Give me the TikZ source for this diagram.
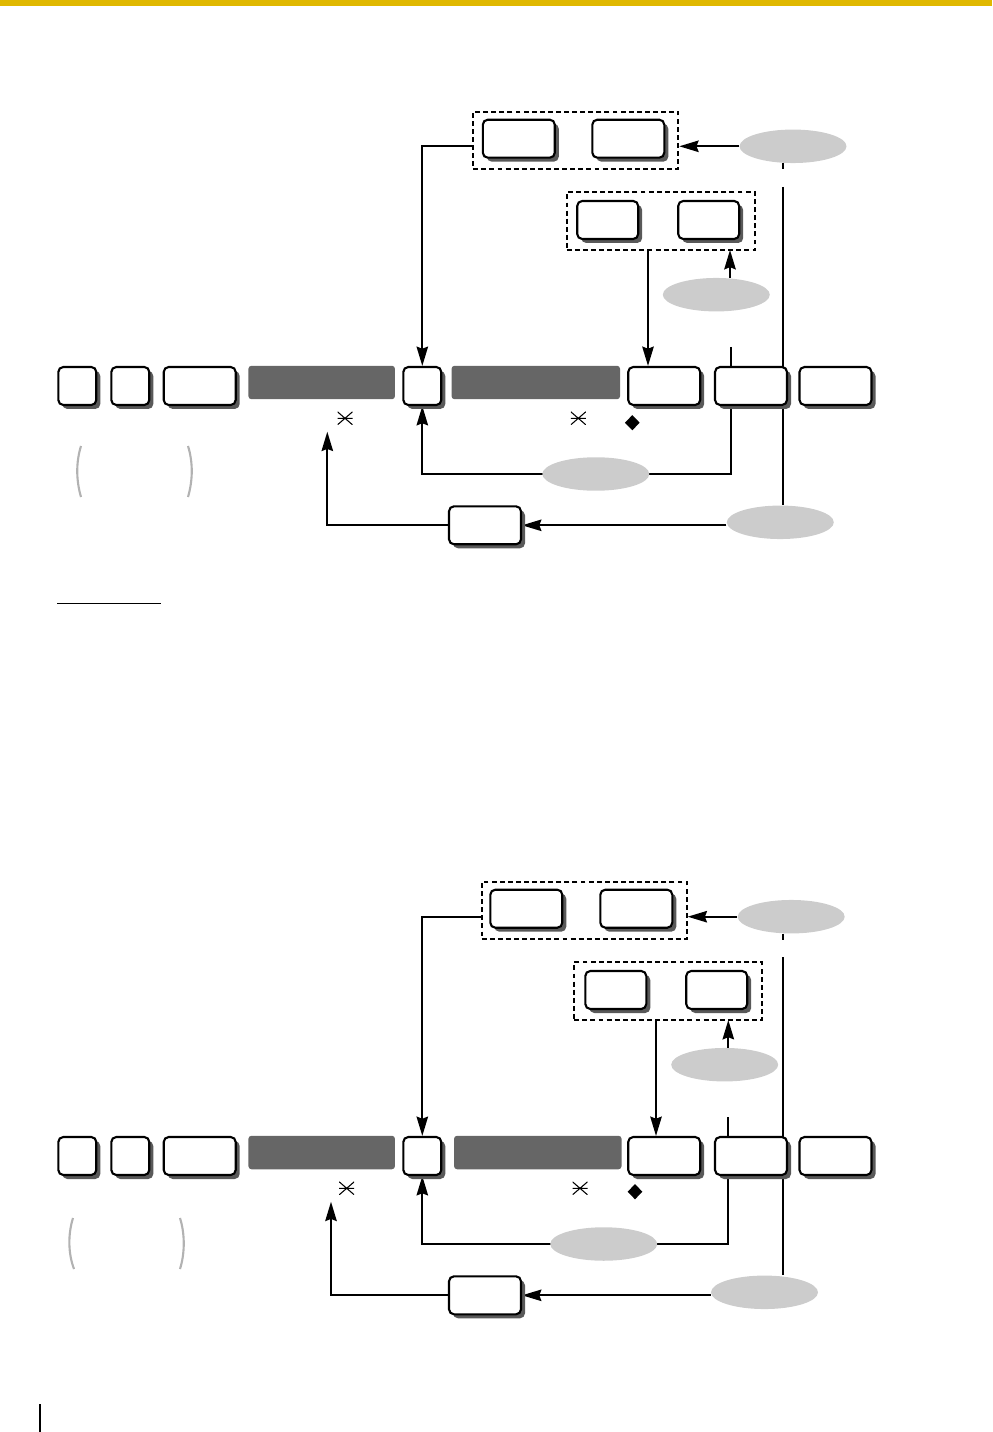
\documentclass[tikz,border=0pt]{standalone}
\usepackage{tikz}
\usetikzlibrary{positioning,arrows.meta,shapes.geometric,shadows}
\pgfdeclarelayer{background}
\pgfsetlayers{background,main}
\definecolor{pagebar}{RGB}{224,184,0}

\begin{document}
\begin{tikzpicture}[x=0.02cm, y=-0.02cm,
  keybox/.style={draw, line width=1.2pt, rounded corners=0.1cm, fill=white, minimum height=0.76cm, inner sep=0pt,
    drop shadow={shadow xshift=0.08cm, shadow yshift=-0.08cm, fill=black!65, opacity=1}},
  smallkey/.style={keybox, minimum width=0.76cm},
  midkey/.style={keybox, minimum width=1.22cm},
  widekey/.style={keybox, minimum width=1.44cm},
  darkbar/.style={fill=black!60, rounded corners=0.06cm, minimum height=0.67cm, inner sep=0pt},
  grayoval/.style={ellipse, fill=black!20, minimum width=2.14cm, minimum height=0.67cm, inner sep=0pt},
  groupbox/.style={draw, line width=1.1pt, dash pattern=on 2.8pt off 1.8pt, inner sep=0pt},
  conn/.style={line width=1.2pt},
  tip/.style={-{Stealth[length=11pt, width=6.5pt, inset=1.2pt]}},
  astmark/.style={minimum width=0.3cm, minimum height=0.26cm, inner sep=0pt,
    path picture={\draw[line width=0.6pt] (path picture bounding box.west) -- (path picture bounding box.east)
      (path picture bounding box.north west) -- (path picture bounding box.south east)
      (path picture bounding box.south west) -- (path picture bounding box.north east);}},
  dmark/.style={diamond, fill=black, inner sep=0pt, minimum width=0.3cm, minimum height=0.31cm},
  paren/.style={draw=black!30, line width=1.2pt}]
\useasboundingbox (0,0) rectangle (992,1432);
\fill[pagebar] (0,0) rectangle (992,5.7);

% first diagram
\node[groupbox, minimum width=4.1cm, minimum height=1.15cm] (grpA) at (575.8,140.4) {};
\node[widekey] (a1) at (518.8,138.7) {};
\node[widekey] (a2) at (628.3,138.7) {};
\node[groupbox, minimum width=3.77cm, minimum height=1.15cm] (grpB) at (660.9,221.2) {};
\node[midkey] (b1) at (607.7,220) {};
\node[midkey] (b2) at (708.7,220) {};
\node[grayoval] (ovA) at (793,146.3) {};
\node[grayoval] (ovB) at (716.3,294.7) {};
\node[smallkey] (k1) at (77.3,386) {};
\node[smallkey] (k2) at (130.3,386) {};
\node[widekey] (k3) at (199.7,386) {};
\node[darkbar, minimum width=2.93cm] (bar1) at (321.7,382.5) {};
\node[smallkey] (kc) at (422.3,386) {};
\node[darkbar, minimum width=3.37cm] (bar2) at (535.8,382.5) {};
\node[widekey] (k6) at (664.2,386) {};
\node[widekey] (k7) at (751,386) {};
\node[widekey] (k8) at (835.5,386) {};
\node[astmark] (s1) at (345,418.3) {};
\node[astmark] (s2) at (578.3,418.3) {};
\node[dmark] (d1) at (632.3,422.7) {};
\node[grayoval] (ovC) at (595.8,474) {};
\node[grayoval] (ovD) at (780.3,522.3) {};
\node[widekey] (kr) at (485,525.3) {};
\coordinate (dropB) at (648,250);
\coordinate (upB) at (730,250);
\coordinate (stub) at (731,347);
\coordinate (vtop) at (783.3,187);
\coordinate (retA) at (327.3,431.7);
\draw[paren] (81,446) .. controls (76,462) and (76,480) .. (81,497);
\draw[paren] (188,446) .. controls (193,462) and (193,480) .. (188,497);
\begin{pgfonlayer}{background}
\draw[conn, tip] (grpA.west |- ovA.west) -| (kc.north);
\draw[conn, tip] (ovA.west) -- (ovA.west -| grpA.east);
\draw[conn, tip] (upB |- ovB.north) -- (upB);
\draw[conn, tip] (dropB) -- (dropB |- k6.north);
\draw[conn] (stub) -- (stub |- k7.north);
\draw[conn, tip] (stub |- k7.south) -- (stub |- ovC) -| (kc.south);
\draw[conn] (ovA.south -| vtop) -- ++(0,6);
\draw[conn] (vtop) -- (vtop |- ovD.north);
\draw[conn, tip] (kr.east -| ovD.west) -- (kr.east);
\draw[conn, tip] (kr.west) -| (retA);
\end{pgfonlayer}

\draw[line width=0.9pt] (57.3,603.3) -- (161,603.3);

% second diagram
\node[groupbox, minimum width=4.1cm, minimum height=1.15cm] (grpAb) at (584.2,910.4) {};
\node[widekey] (a1b) at (526.3,908.7) {};
\node[widekey] (a2b) at (636.3,908.7) {};
\node[groupbox, minimum width=3.76cm, minimum height=1.15cm] (grpBb) at (668.3,991.2) {};
\node[midkey] (b1b) at (615.8,990) {};
\node[midkey] (b2b) at (716.7,990) {};
\node[grayoval] (ovAb) at (791.2,916.7) {};
\node[grayoval] (ovBb) at (724.7,1064.7) {};
\node[smallkey] (k1b) at (77.3,1156) {};
\node[smallkey] (k2b) at (130.3,1156) {};
\node[widekey] (k3b) at (199.7,1156) {};
\node[darkbar, minimum width=2.93cm] (bar1b) at (321.7,1152.5) {};
\node[smallkey] (kcb) at (422.3,1156) {};
\node[darkbar, minimum width=3.35cm] (bar2b) at (537.8,1152.5) {};
\node[widekey] (k6b) at (664.2,1156) {};
\node[widekey] (k7b) at (751,1156) {};
\node[widekey] (k8b) at (835.5,1156) {};
\node[astmark] (s1b) at (346.7,1188.3) {};
\node[astmark] (s2b) at (580,1188.3) {};
\node[dmark] (d1b) at (635,1191.7) {};
\node[grayoval] (ovCb) at (603.7,1244) {};
\node[grayoval] (ovDb) at (764.5,1292.3) {};
\node[widekey] (krb) at (485,1295.3) {};
\coordinate (dropBb) at (656,1020);
\coordinate (upBb) at (728.3,1020);
\coordinate (stubb) at (728.3,1117);
\coordinate (vtopb) at (783.3,957.3);
\coordinate (retAb) at (331,1201.7);
\draw[paren] (73,1218) .. controls (68,1234) and (68,1253) .. (74,1269);
\draw[paren] (180,1218) .. controls (185,1234) and (185,1253) .. (180,1269);
\begin{pgfonlayer}{background}
\draw[conn, tip] (grpAb.west |- ovAb.west) -| (kcb.north);
\draw[conn, tip] (ovAb.west) -- (ovAb.west -| grpAb.east);
\draw[conn, tip] (upBb |- ovBb.north) -- (upBb);
\draw[conn, tip] (dropBb) -- (dropBb |- k6b.north);
\draw[conn] (stubb) -- (stubb |- k7b.north);
\draw[conn, tip] (stubb |- k7b.south) -- (stubb |- ovCb) -| (kcb.south);
\draw[conn] (ovAb.south -| vtopb) -- ++(0,6);
\draw[conn] (vtopb) -- (vtopb |- ovDb.north);
\draw[conn, tip] (krb.east -| ovDb.west) -- (krb.east);
\draw[conn, tip] (krb.west) -| (retAb);
\end{pgfonlayer}

\draw[line width=1.2pt] (40,1404) -- (40,1432);
\end{tikzpicture}
\end{document}
